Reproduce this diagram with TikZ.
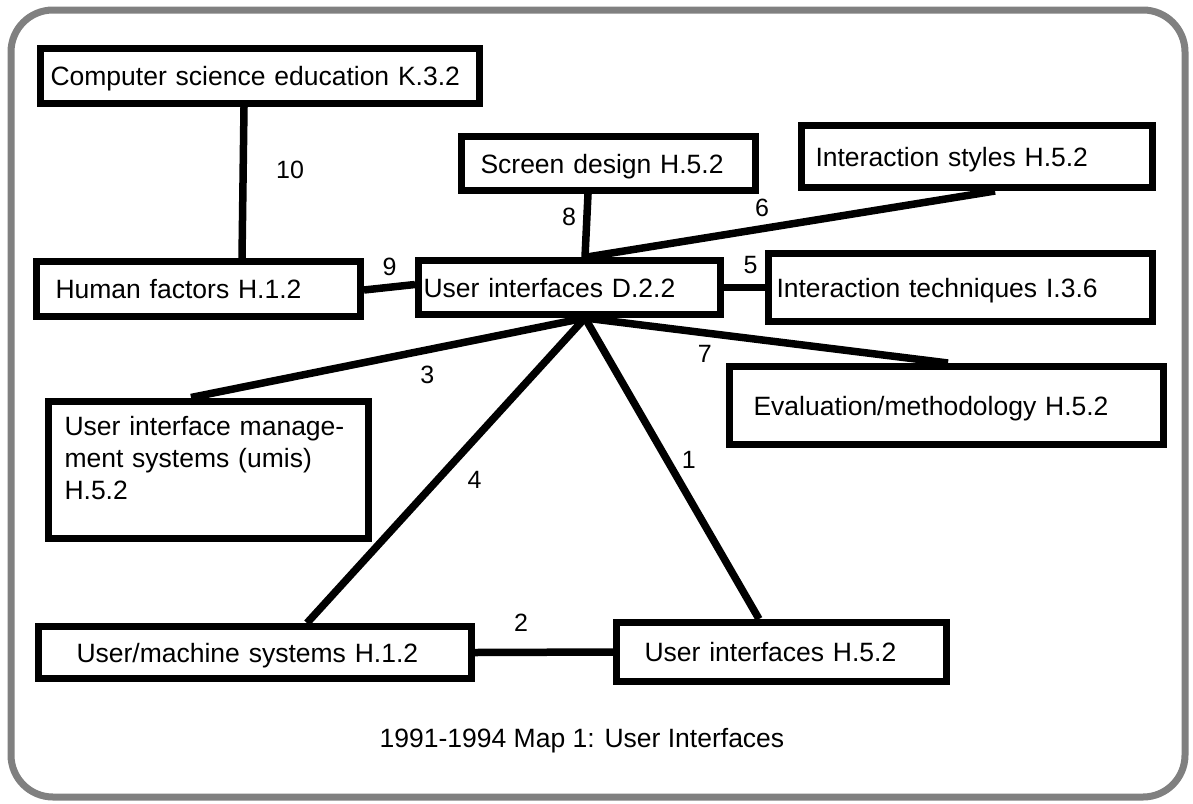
\documentclass[tikz,border=0pt]{standalone}
\usepackage{fontspec}
\setmainfont{Liberation Sans}
\begin{document}
\begin{tikzpicture}[x=1pt,y=-1pt,
		box/.style={draw,line width=7pt,inner ysep=0pt,align=left,text height=19pt,text depth=0pt,font=\fontsize{26.5}{32}\selectfont},
		link/.style={line width=7.5pt},
		num/.style={font=\fontsize{25}{30}\selectfont,inner sep=0pt}]
	\useasboundingbox (0,0) rectangle (1193,803);
	\draw[line width=7pt,gray,rounded corners=42pt] (11,10) rectangle (1185,797);
	\begin{scope}
		\path (260  ,  76  ) node[box,minimum height=55pt,inner xsep=10pt,text width=419pt] (cse) {Computer science education K.3.2};
		\path (198.5, 289  ) node[box,minimum height=55pt,inner xsep=19pt,text width=286pt] (hf) {Human factors H.1.2};
		\path (569.5, 287.5) node[box,minimum height=54pt,inner xsep=5pt,text width=292pt] (uid) {User interfaces D.2.2};
		\path (608.5, 163.5) node[box,minimum height=54pt,inner xsep=19pt,text width=256pt] (sd) {Screen design H.5.2};
		\path (977  , 156.5) node[box,minimum height=62pt,inner xsep=14pt,text width=323pt] (ist) {Interaction styles H.5.2};
		\path (960.5, 287.5) node[box,minimum height=68pt,inner xsep=8pt,text width=368pt] (itq) {Interaction techniques I.3.6};
		\path (946.5, 405.5) node[box,minimum height=78pt,inner xsep=24pt,text width=386pt] (evm) {Evaluation/methodology H.5.2};
		\path (208.5, 397.5) node[box,anchor=north,inner xsep=16pt,text width=288pt,text height=34.5pt,text depth=102.5pt] (uims) {User interface manage-\\ment systems (umis)\\H.5.2};
		\path (255  , 652.5) node[box,minimum height=52pt,inner xsep=38pt,text width=357pt] (ums) {User/machine systems H.1.2};
		\path (781.5, 652  ) node[box,minimum height=59pt,inner xsep=28pt,text width=274pt] (uih) {User interfaces H.5.2};
		\coordinate (hub) at ([xshift=15.5pt]uid.south);
		\draw[link] ([xshift=-16pt]cse.south) -- ([xshift=43.5pt]hf.north) node[num,midway,xshift=47pt,yshift=12.5pt] {10};
		\draw[link] ([yshift=-1pt]hf.east) -- ([yshift=3pt]uid.west) node[num,midway,yshift=20pt] {9};
		\draw[link] ([xshift=-20.5pt]sd.south) -- ([xshift=15.5pt]uid.north) node[num,midway,xshift=-17.5pt,yshift=8.5pt] {8};
		\draw[link] ([xshift=17.5pt]uid.north) -- ([xshift=18pt]ist.south) node[num,midway,xshift=-29pt,yshift=16pt] {6};
		\draw[link] (uid.east) -- (itq.west) node[num,midway,xshift=6pt,yshift=22.5pt] {5};
		\draw[link] (hub) -- ([xshift=1.5pt]evm.north) node[num,pos=.33,yshift=-21pt] {7};
		\draw[link] (hub) -- ([xshift=-17.5pt]uims.north) node[num,pos=.4,yshift=-25pt] {3};
		\draw[link] (hub) -- ([xshift=52pt]ums.north) node[num,pos=.53,xshift=37pt] {4};
		\draw[link] (hub) -- ([xshift=-22.5pt]uih.north) node[num,pos=.47,xshift=22pt] {1};
		\draw[link] (ums.east) -- (uih.west) node[num,midway,xshift=-23pt,yshift=29pt] {2};
	\end{scope}
	\path (582,741) node[font=\fontsize{26.5}{32}\selectfont] (caption) {1991-1994 Map 1: User Interfaces};
\end{tikzpicture}
\end{document}
